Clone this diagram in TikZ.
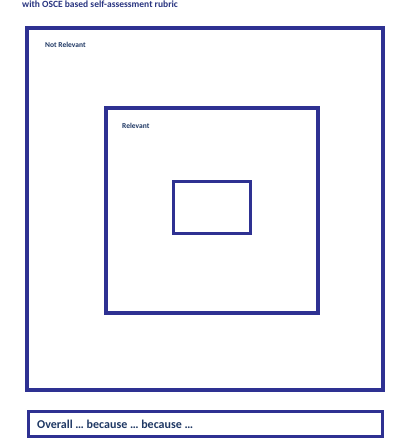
\documentclass[tikz,border=0pt]{standalone}
\usepackage{fontspec}
\setmainfont{Carlito}
\definecolor{boxblue}{RGB}{46,49,146}
\definecolor{txtblue}{RGB}{31,56,100}
\begin{document}
\begin{tikzpicture}[x=1pt,y=-1pt,
  frame/.style={draw=boxblue,line width=#1},
  lbl/.style={text=txtblue,font=\bfseries,inner sep=0pt,anchor=west}]
\path[use as bounding box,clip] (0,0) rectangle (398,440);
\fill[white] (0,0) rectangle (398,440);
\node[lbl,font=\bfseries\fontsize{9.5}{10}\selectfont,text=boxblue!60!txtblue] (title) at (22,4) {with OSCE based self-assessment rubric};
\draw[frame=4pt] (27,28) rectangle (383,390);
\node[lbl,font=\bfseries\fontsize{7.5}{8}\selectfont] (nr) at (45,45) {Not Relevant};
\draw[frame=3.5pt] (106,108) rectangle (318,313);
\node[lbl,font=\bfseries\fontsize{7.5}{8}\selectfont] (rel) at (122,126) {Relevant};
\draw[frame=3pt] (173,181) rectangle (250,233);
\draw[frame=3pt] (28,411) rectangle (382,436);
\node[lbl,font=\bfseries\fontsize{12}{13}\selectfont] (ov) at (37,424) {Overall … because … because …};
\end{tikzpicture}
\end{document}
